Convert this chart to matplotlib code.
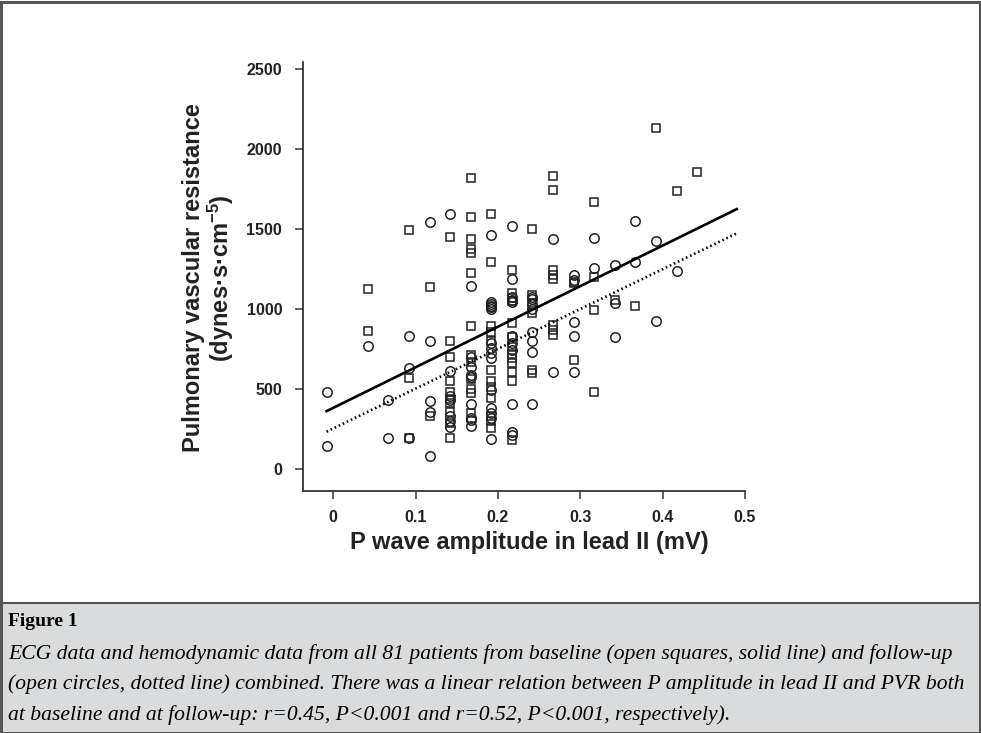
import matplotlib
matplotlib.use("Agg")
import matplotlib.pyplot as plt
from matplotlib.patches import Rectangle
from matplotlib.lines import Line2D
import numpy as np

# ---------------- data ----------------
# P wave amplitude levels (mV) used by the measurements
p_levels = [-0.008, 0.017, 0.042, 0.067, 0.092, 0.117, 0.142, 0.167, 0.192,
            0.217, 0.242, 0.267, 0.292, 0.317, 0.342, 0.367, 0.392, 0.417, 0.442]

# baseline (open squares): level index -> PVR values
baseline_pvr = {
    2: [1127, 862],
    4: [1494, 571, 196],
    5: [1135, 333],
    6: [1448, 802, 702, 550, 479, 437, 410, 354, 290, 196],
    7: [1821, 1573, 1435, 1373, 1348, 1223, 896, 712, 670, 560, 498, 473, 348],
    8: [1592, 1292, 896, 858, 800, 619, 550, 515, 442, 330, 300, 254],
    9: [1244, 1098, 1067, 1050, 910, 827, 760, 720, 692, 660, 608, 550, 181],
    10: [1498, 1088, 1040, 973, 619, 598],
    11: [1833, 1744, 1244, 1210, 1187, 900, 869, 838],
    12: [1170, 1160, 681],
    13: [1671, 1202, 994, 479],
    14: [1056],
    15: [1021],
    16: [2129],
    17: [1740],
    18: [1854],
}

# follow-up (open circles)
followup_pvr = {
    0: [481, 144],
    2: [769],
    3: [433, 196],
    4: [833, 633, 196],
    5: [1542, 802, 425, 354, 83],
    6: [1592, 612, 458, 430, 330, 302, 265],
    7: [1146, 700, 640, 590, 577, 404, 320, 306, 271],
    8: [1462, 1046, 1030, 1020, 1010, 1000, 785, 754, 723, 692, 494, 379, 348, 317, 185],
    9: [1516, 1185, 1075, 1055, 1046, 830, 785, 744, 404, 233, 212],
    10: [1075, 1060, 1030, 1000, 858, 802, 729, 406],
    11: [1435, 604],
    12: [1212, 1181, 917, 829, 608],
    13: [1442, 1254],
    14: [1275, 1035, 827],
    15: [1550, 1296],
    16: [1427, 925],
    17: [1240],
}

# regression lines (intercept, slope per mV) and plotted x-range
baseline_fit = (382, 2536)
followup_fit = (253, 2490)
fit_range = [-0.008, 0.49]

x_ticks = [0, 0.1, 0.2, 0.3, 0.4, 0.5]
x_ticklabels = ["0", "0.1", "0.2", "0.3", "0.4", "0.5"]
y_ticks = [0, 500, 1000, 1500, 2000, 2500]

caption_title = "Figure 1"
caption_lines = [
    "ECG data and hemodynamic data from all 81 patients from baseline (open squares, solid line) and follow-up",
    "(open circles, dotted line) combined. There was a linear relation between P amplitude in lead II and PVR both",
    "at baseline and at follow-up: r=0.45, P<0.001 and r=0.52, P<0.001, respectively).",
]

# ---------------- figure ----------------
plt.rcParams['font.family'] = ['Liberation Sans', 'DejaVu Sans']
plt.rcParams['mathtext.fontset'] = 'custom'
plt.rcParams['mathtext.rm'] = 'Liberation Sans:bold'
plt.rcParams['mathtext.bf'] = 'Liberation Sans:bold'
plt.rcParams['mathtext.default'] = 'bf'

W, H = 981, 733
fig = plt.figure(figsize=(W / 100, H / 100), dpi=100)
fig.patch.set_facecolor('white')

# caption box
cap_top = 603
fig.patches.append(Rectangle((0, 0), 1, (H - cap_top) / H, transform=fig.transFigure,
                             facecolor='#dadbdc', edgecolor='none', zorder=0))
fig.lines.append(Line2D([0, 1], [(H - cap_top) / H] * 2, transform=fig.transFigure,
                        color='#555555', lw=1.5))
# outer frame
fig.patches.append(Rectangle((0.0015, 0.0), 0.997, 0.997, transform=fig.transFigure,
                             facecolor='none', edgecolor='#555555', lw=2.2, zorder=5))

ax = fig.add_axes([303 / W, (H - 491) / H, (745 - 303) / W, (491 - 62) / H])
ax.set_facecolor('white')

bx, by = [], []
for k, vals in baseline_pvr.items():
    for v in vals:
        bx.append(p_levels[k]); by.append(v)
fx, fy = [], []
for k, vals in followup_pvr.items():
    for v in vals:
        fx.append(p_levels[k]); fy.append(v)

ax.plot(bx, by, ls='none', marker='s', ms=6.0, mfc='none', mec='#222222', mew=1.1, zorder=3)
ax.plot(fx, fy, ls='none', marker='o', ms=6.8, mfc='none', mec='#222222', mew=1.1, zorder=3)

xr = np.array(fit_range)
ax.plot(xr, baseline_fit[0] + baseline_fit[1] * xr, color='black', lw=1.9, zorder=4)
ax.plot(xr, followup_fit[0] + followup_fit[1] * xr, color='black', lw=1.9,
        ls=(0, (0.6, 1.1)), zorder=4)

ax.set_xlim(-0.0366, 0.5)
ax.set_ylim(-137.5, 2544)
ax.set_xticks(x_ticks)
ax.set_xticklabels(x_ticklabels)
ax.set_yticks(y_ticks)
for s in ['top', 'right']:
    ax.spines[s].set_visible(False)
for s in ['left', 'bottom']:
    ax.spines[s].set_color('#333333')
    ax.spines[s].set_linewidth(1.3)
ax.tick_params(axis='both', direction='out', color='#333333', width=1.1,
               labelsize=11.5, labelcolor='#222222')
ax.tick_params(axis='y', length=6, pad=9)
ax.tick_params(axis='x', length=6, pad=8)
for lab in ax.get_xticklabels() + ax.get_yticklabels():
    lab.set_fontweight('bold')

fig.text(529 / W, (H - 542) / H, "P wave amplitude in lead II (mV)", ha='center', va='center',
         fontsize=17, fontweight='bold', color='#222222')
fig.text(209 / W, (H - 278) / H,
         "Pulmonary vascular resistance\n(dynes·s·cm$^{-5}$)",
         ha='center', va='center', rotation=90, fontsize=17, fontweight='bold',
         color='#222222', linespacing=1.05)

# caption
fig.text(8 / W, (H - 622) / H, caption_title, ha='left', va='center',
         family=['Liberation Serif'], fontweight='bold', fontsize=14, color='black')
for i, line in enumerate(caption_lines):
    fig.text(8 / W, (H - (654 + 30.5 * i)) / H, line, ha='left', va='center',
             family=['Liberation Serif'], style='italic', fontsize=15.6, color='black')

fig.savefig('out.png', dpi=100)
